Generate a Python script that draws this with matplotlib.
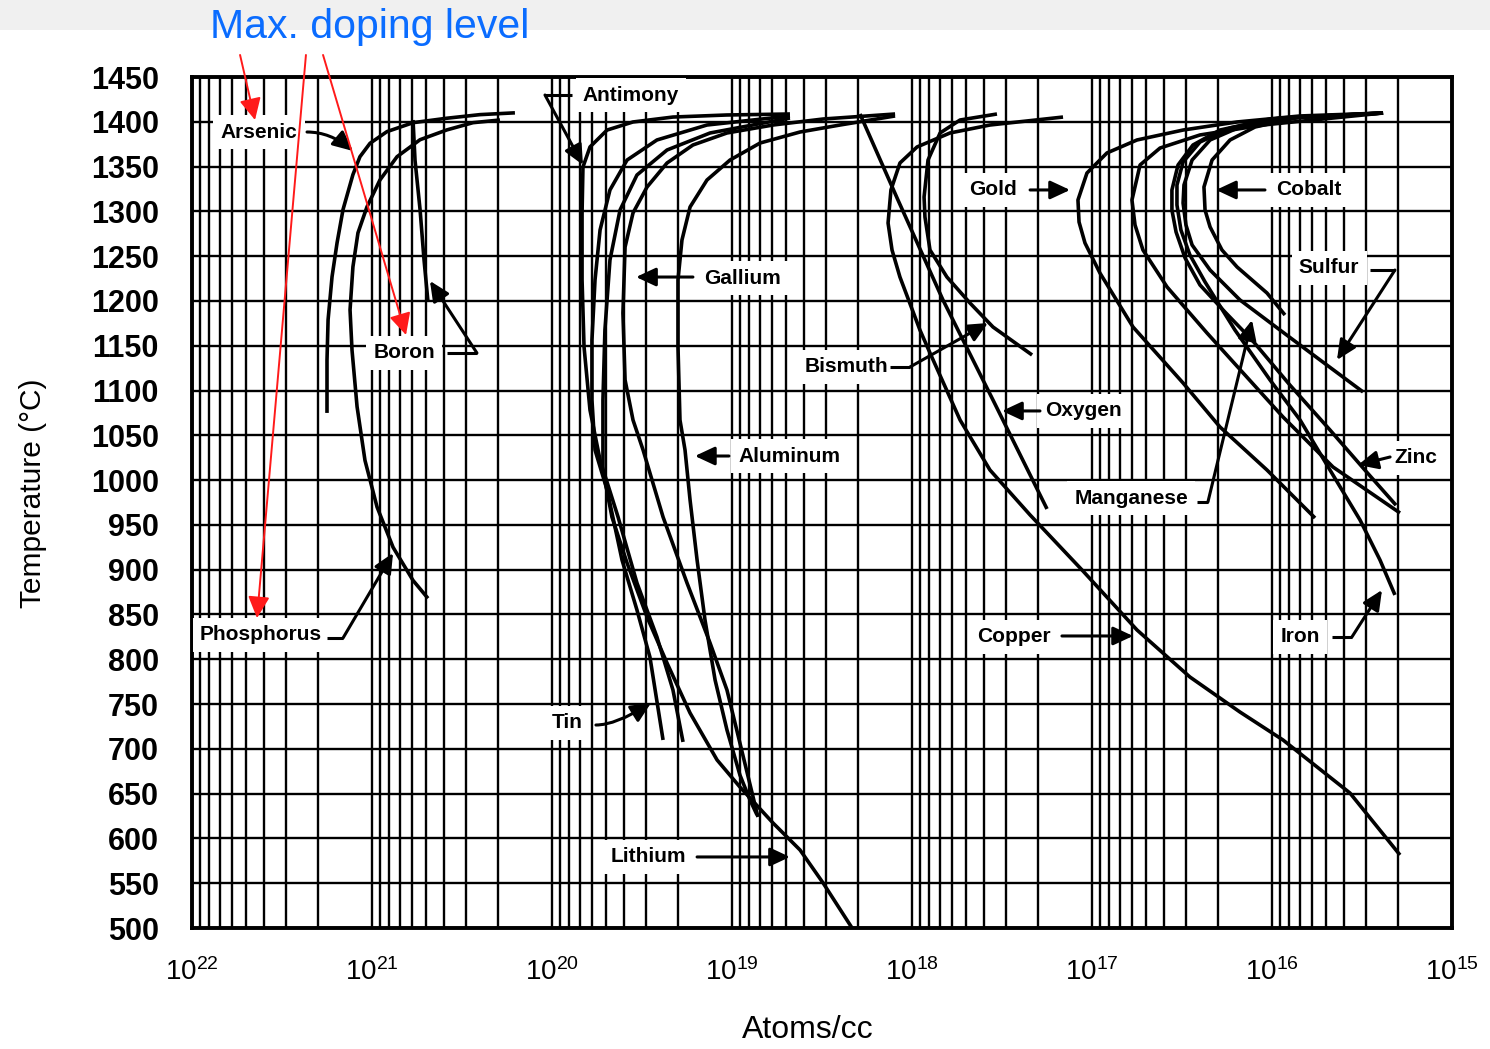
import numpy as np
import matplotlib
matplotlib.use("Agg")
import matplotlib.pyplot as plt
from matplotlib.ticker import LogLocator, NullFormatter
from matplotlib.patches import Rectangle
from matplotlib.transforms import blended_transform_factory

plt.rcParams['font.family'] = ['Liberation Sans', 'DejaVu Sans']
plt.rcParams['mathtext.default'] = 'regular'

# Solid solubility curves: log10(atoms/cc) against temperature (deg C)
arsenic_logN = [21.250, 21.250, 21.244, 21.222, 21.194, 21.161, 21.106, 21.067, 21.011, 20.917, 20.772, 20.583, 20.400, 20.206]
arsenic_T = [1075, 1134, 1179, 1227, 1265, 1302, 1341, 1361, 1376, 1389, 1399, 1404, 1408, 1410]

phosphorus_logN = [20.689, 20.772, 20.883, 20.972, 21.039, 21.083, 21.111, 21.122, 21.106, 21.078, 21.028, 20.956, 20.861, 20.733, 20.583, 20.439, 20.289]
phosphorus_T = [868, 888, 925, 970, 1022, 1082, 1145, 1190, 1238, 1276, 1305, 1335, 1361, 1380, 1391, 1399, 1402]

boron_logN = [20.772, 20.761, 20.733, 20.711, 20.689]
boron_T = [1402, 1357, 1302, 1246, 1199]

antimony_logN = [18.678, 19.028, 19.328, 19.550, 19.694, 19.789, 19.828, 19.833, 19.833, 19.822, 19.789, 19.733, 19.633, 19.528, 19.417, 19.328, 19.272]
antimony_T = [1408.7, 1407.6, 1405.3, 1399.8, 1390.8, 1371.9, 1349.5, 1298.2, 1223.4, 1148.6, 1078.3, 1022.5, 958.8, 885.2, 824.9, 765.7, 707.7]

tin_logN = [18.678, 19.139, 19.417, 19.583, 19.678, 19.733, 19.761, 19.778, 19.778, 19.761, 19.694, 19.611, 19.528, 19.456, 19.383]
tin_T = [1406.5, 1396.4, 1379.7, 1357.3, 1323.9, 1279.2, 1223.4, 1156.4, 1089.4, 1033.6, 989.0, 910.8, 855.0, 802.5, 709.9]

lithium_logN = [18.678, 19.122, 19.361, 19.528, 19.622, 19.678, 19.706, 19.717, 19.717, 19.667, 19.583, 19.472, 19.361, 19.233, 19.083, 18.956, 18.772, 18.622, 18.494, 18.333]
lithium_T = [1404.2, 1387.5, 1368.5, 1340.6, 1301.5, 1245.7, 1167.6, 1089.4, 1011.3, 958.8, 907.5, 847.2, 795.8, 740.0, 687.6, 657.4, 617.2, 587.1, 550.3, 500.0]

gallium_logN = [18.094, 18.494, 18.772, 19.028, 19.217, 19.361, 19.472, 19.550, 19.594, 19.606, 19.594, 19.550, 19.494, 19.383, 19.250, 19.122, 19.028, 18.956, 18.883, 18.856]
gallium_T = [1408.7, 1403.1, 1396.4, 1387.5, 1374.1, 1354.0, 1327.2, 1298.2, 1260.2, 1186.5, 1111.8, 1067.1, 1033.6, 958.8, 885.2, 818.2, 765.7, 706.5, 646.3, 623.9]

aluminum_logN = [18.094, 18.400, 18.622, 18.844, 19.011, 19.139, 19.233, 19.278, 19.300, 19.300, 19.289, 19.261, 19.233, 19.194, 19.150, 19.094, 19.028, 18.956, 18.900, 18.861]
aluminum_T = [1406.5, 1396.4, 1388.6, 1376.3, 1357.3, 1335.0, 1304.9, 1268.0, 1223.4, 1148.6, 1067.1, 1033.6, 977.8, 910.8, 843.9, 776.9, 721.1, 670.8, 642.9, 626.2]

bismuth_logN = [17.528, 17.733, 17.844, 17.911, 17.933, 17.928, 17.900, 17.806, 17.678, 17.550, 17.333]
bismuth_T = [1408.7, 1402.0, 1387.5, 1357.3, 1316.0, 1293.7, 1256.9, 1226.7, 1197.7, 1170.9, 1139.7]

copper_logN = [17.161, 17.567, 17.789, 17.972, 18.067, 18.117, 18.133, 18.111, 18.067, 17.956, 17.900, 17.733, 17.567, 17.344, 17.050, 16.750, 16.456, 16.178, 15.939, 15.567, 15.289]
copper_T = [1405.3, 1396.4, 1387.5, 1371.9, 1354.0, 1323.9, 1287.0, 1256.9, 1226.7, 1167.6, 1141.9, 1067.1, 1011.3, 961.1, 898.5, 832.7, 780.2, 741.1, 709.9, 650.7, 581.5]

oxygen_logN = [18.289, 18.078, 17.828, 17.550, 17.250]
oxygen_T = [1408.7, 1312.7, 1201.1, 1089.4, 967.8]

gold_logN = [15.383, 15.844, 16.194, 16.494, 16.750, 16.917, 17.028, 17.078, 17.072, 17.039, 16.956, 16.772, 16.494, 16.289, 16.028, 15.761]
gold_T = [1409.8, 1406.5, 1399.8, 1390.8, 1379.7, 1365.2, 1342.8, 1312.7, 1288.1, 1264.7, 1231.2, 1170.9, 1108.4, 1059.3, 1011.3, 957.7]

zinc_logN = [15.383, 16.050, 16.400, 16.622, 16.733, 16.778, 16.761, 16.717, 16.583, 16.361, 16.150, 15.939, 15.661, 15.289]
zinc_T = [1409.8, 1396.4, 1385.3, 1370.7, 1351.8, 1312.7, 1284.8, 1256.9, 1215.6, 1164.2, 1117.3, 1070.5, 1014.6, 963.3]

cobalt_logN = [15.383, 15.844, 16.094, 16.233, 16.333, 16.378, 16.372, 16.344, 16.278, 16.194, 16.028, 15.928]
cobalt_T = [1409.8, 1405.3, 1394.2, 1379.7, 1357.3, 1327.2, 1301.5, 1282.6, 1256.9, 1237.9, 1208.9, 1184.3]

sulfur_logN = [15.383, 15.900, 16.178, 16.344, 16.444, 16.489, 16.494, 16.478, 16.444, 16.344, 16.178, 15.956, 15.733, 15.494]
sulfur_T = [1409.8, 1404.2, 1394.2, 1379.7, 1357.3, 1329.4, 1309.3, 1284.8, 1262.5, 1234.5, 1201.1, 1167.6, 1134.1, 1098.4]

iron_logN = [15.383, 15.956, 16.233, 16.400, 16.494, 16.528, 16.528, 16.506, 16.456, 16.372, 16.206, 16.011, 15.844, 15.678, 15.511, 15.400, 15.317]
iron_T = [1409.8, 1404.2, 1393.1, 1377.4, 1355.1, 1329.4, 1307.1, 1279.2, 1251.3, 1221.2, 1167.6, 1111.8, 1067.1, 1011.3, 955.5, 910.8, 871.8]

manganese_logN = [15.383, 16.011, 16.289, 16.439, 16.522, 16.556, 16.556, 16.533, 16.483, 16.400, 16.261, 16.111, 15.900, 15.678, 15.483, 15.311]
manganese_T = [1409.8, 1403.1, 1390.8, 1374.1, 1351.8, 1323.9, 1301.5, 1277.0, 1248.0, 1217.8, 1187.6, 1156.4, 1106.0, 1056.0, 1011.0, 972.0]

curves = [
    (arsenic_logN, arsenic_T), (phosphorus_logN, phosphorus_T), (boron_logN, boron_T),
    (antimony_logN, antimony_T), (tin_logN, tin_T), (lithium_logN, lithium_T),
    (gallium_logN, gallium_T), (aluminum_logN, aluminum_T), (bismuth_logN, bismuth_T),
    (copper_logN, copper_T), (oxygen_logN, oxygen_T), (gold_logN, gold_T),
    (zinc_logN, zinc_T), (cobalt_logN, cobalt_T), (sulfur_logN, sulfur_T),
    (iron_logN, iron_T), (manganese_logN, manganese_T),
]

# Axis ticks
temp_ticks = list(range(500, 1451, 50))
decade_exponents = [22, 21, 20, 19, 18, 17, 16, 15]

# Element labels: text, label centre, leader tail, optional corner, arrow tip, connection
callouts = [
    ("Arsenic",    (21.628, 1388.6), (21.361, 1388.6), None,             (21.106, 1367.4), "angle3,angleA=0,angleB=-40"),
    ("Boron",      (20.822, 1141.9), (20.583, 1141.9), (20.417, 1141.9), (20.678, 1222.3), None),
    ("Phosphorus", (21.617, 827.1),  (21.250, 823.7),  (21.161, 823.7),  (20.883, 918.6),  None),
    ("Antimony",   (19.561, 1429.9), (19.889, 1429.9), (20.039, 1429.9), (19.828, 1351.8), None),
    ("Gallium",    (18.939, 1225.6), (19.217, 1226.7), None,             (19.533, 1226.7), None),
    ("Aluminum",   (18.683, 1026.9), (19.017, 1026.9), None,             (19.206, 1026.9), None),
    ("Tin",        (19.917, 728.9),  (19.756, 726.6),  None,             (19.450, 751.2),  "angle3,angleA=0,angleB=32"),
    ("Lithium",    (19.467, 579.3),  (19.194, 579.3),  None,             (18.678, 579.3),  None),
    ("Bismuth",    (18.367, 1126.3), (18.122, 1126.3), (18.011, 1126.3), (17.578, 1175.4), None),
    ("Gold",       (17.550, 1323.9), (17.344, 1323.9), None,             (17.122, 1323.9), None),
    ("Oxygen",     (17.050, 1077.2), (17.289, 1077.2), None,             (17.500, 1077.2), None),
    ("Manganese",  (16.783, 980.0),  (16.417, 975.6),  (16.356, 975.6),  (16.111, 1178.7), None),
    ("Cobalt",     (15.794, 1323.9), (16.039, 1323.9), None,             (16.311, 1323.9), None),
    ("Sulfur",     (15.683, 1236.8), (15.456, 1234.5), (15.317, 1234.5), (15.639, 1134.1), None),
    ("Zinc",       (15.200, 1024.7), (15.344, 1025.8), None,             (15.522, 1016.9), None),
    ("Copper",     (17.433, 824.9),  (17.167, 826.0),  None,             (16.772, 826.0),  None),
    ("Iron",       (15.844, 824.9),  (15.667, 824.9),  (15.556, 824.9),  (15.389, 877.3),  None),
]

# Highlight arrows from the heading to the highest doping levels
doping_tail = [(21.733, 1474.6), (21.367, 1474.6), (21.272, 1474.6)]
doping_tip = [(21.650, 1402.0), (21.639, 846.0), (20.811, 1162.0)]

W, H = 1490, 1049
fig = plt.figure(figsize=(W / 100, H / 100), dpi=100)
fig.add_artist(Rectangle((0, 1 - 30 / H), 1, 30 / H, transform=fig.transFigure,
                         facecolor='#f0f0f0', edgecolor='none', zorder=0))

ax = fig.add_axes([192 / W, 1 - 928 / H, 1260 / W, 851 / H])
ax.set_xscale('log')
ax.set_xlim(1e22, 1e15)
ax.set_ylim(500, 1450)
ax.set_yticks(temp_ticks)
ax.xaxis.set_major_locator(LogLocator(base=10, numticks=20))
ax.xaxis.set_minor_locator(LogLocator(base=10, subs=np.arange(2, 10), numticks=100))
ax.xaxis.set_major_formatter(NullFormatter())
ax.xaxis.set_minor_formatter(NullFormatter())
ax.set_axisbelow(True)
ax.grid(which='both', color='black', linewidth=1.7)
ax.tick_params(which='both', length=0)
ax.tick_params(axis='y', pad=24, labelsize=22)
for lab in ax.get_yticklabels():
    lab.set_fontweight('bold')
for sp in ax.spines.values():
    sp.set_linewidth(2.8)

# Decade labels under the concentration axis
xlab_tr = blended_transform_factory(ax.transData, ax.transAxes)
for e in decade_exponents:
    ax.text(10.0 ** e, -0.035, rf'$10^{{{e}}}$', transform=xlab_tr, fontsize=20,
            ha='center', va='top')

for logN, T in curves:
    ax.plot(10 ** np.asarray(logN), T, color='black', linewidth=2.6,
            solid_capstyle='butt', solid_joinstyle='round', zorder=4)

arrow_kw = dict(arrowstyle='-|>,head_length=0.6,head_width=0.28', color='black',
                lw=2.2, shrinkA=0, shrinkB=0, mutation_scale=20)
for text, pos, tail, corner, tip, conn in callouts:
    ax.text(10 ** pos[0], pos[1], text, ha='center', va='center', fontsize=15,
            fontweight='bold', zorder=3,
            bbox=dict(boxstyle='square,pad=0.35', facecolor='white', edgecolor='none'))
    start = tail
    if corner is not None:
        ax.plot([10 ** tail[0], 10 ** corner[0]], [tail[1], corner[1]], color='black',
                lw=2.2, solid_capstyle='butt', zorder=5)
        start = corner
    kw = dict(arrow_kw)
    if conn:
        kw['connectionstyle'] = conn
    ax.annotate('', xy=(10 ** tip[0], tip[1]), xytext=(10 ** start[0], start[1]),
                arrowprops=kw, zorder=5)

for tail, tip in zip(doping_tail, doping_tip):
    ax.annotate('', xy=(10 ** tip[0], tip[1]), xytext=(10 ** tail[0], tail[1]),
                annotation_clip=False, zorder=6,
                arrowprops=dict(arrowstyle='-|>,head_length=0.6,head_width=0.3',
                                color='#ff1a1a', lw=1.4, shrinkA=0, shrinkB=0,
                                mutation_scale=22))

fig.text(370 / W, 1 - 27 / H, "Max. doping level", color='#0a6cff', fontsize=29.5,
         ha='center', va='center')
fig.text(808 / W, 1 - 1030 / H, "Atoms/cc", fontsize=23, ha='center', va='center',
         family=['Liberation Sans Narrow', 'Liberation Sans'])
fig.text(33 / W, 1 - 493 / H, "Temperature (\u00b0C)", fontsize=21.5, rotation=90,
         ha='center', va='center')

fig.savefig("out.png", dpi=100, facecolor='white')
